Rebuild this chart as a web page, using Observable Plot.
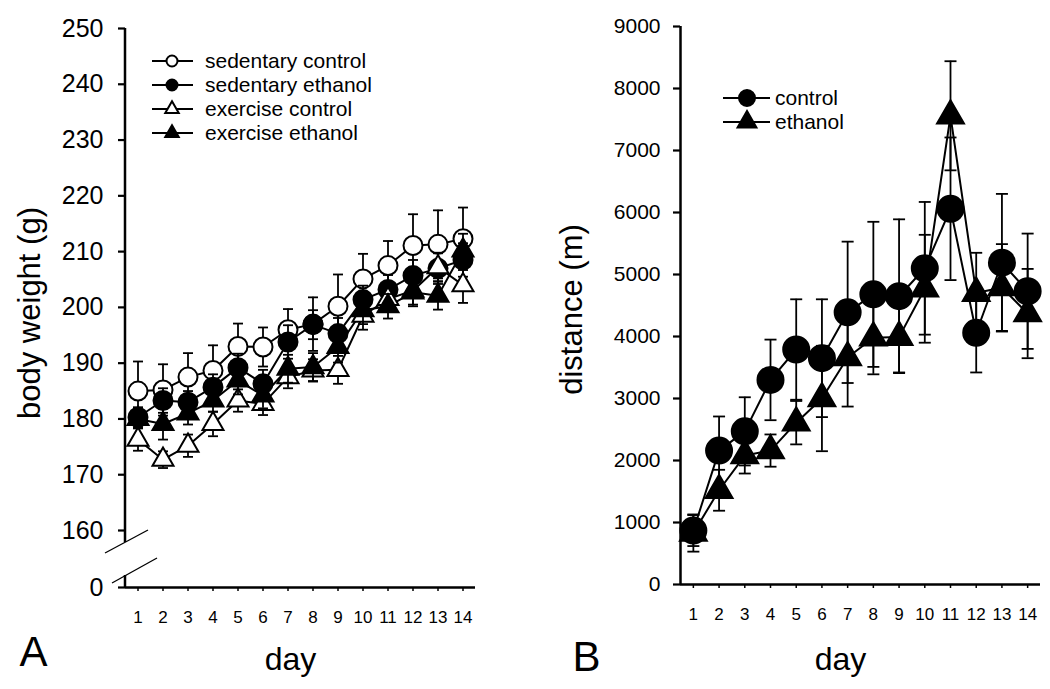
<!DOCTYPE html>
<html><head><meta charset="utf-8">
<script src="https://cdn.jsdelivr.net/npm/d3@7"></script>
<script src="https://cdn.jsdelivr.net/npm/@observablehq/plot@0.6"></script>
<style>
body{margin:0;background:#fff;font-family:"Liberation Sans",Arial,Helvetica,sans-serif;}
#wrap{display:flex;width:1050px;height:689px;}
#wrap svg{display:block;}
</style></head><body><div id="wrap"></div>
<script>
// ---------- data ----------
const days = [1,2,3,4,5,6,7,8,9,10,11,12,13,14];

// Panel A: body weight (g)
const sedControl    = [185.0,185.2,187.5,188.7,193.0,192.9,196.0,197.0,200.2,205.1,207.5,211.1,211.3,212.3];
const sedControlErr = [5.3,4.6,4.3,4.5,4.1,3.5,3.7,4.8,5.7,4.5,4.4,5.6,6.1,5.6];
const sedEthanol    = [180.3,183.3,183.0,185.7,189.2,186.3,193.8,196.9,195.3,201.4,203.2,205.7,207.0,208.5];
const sedEthanolErr = [1.8,2.2,2.0,2.3,2.5,2.5,3.0,2.6,2.8,2.5,2.6,2.8,2.8,3.0];
const exControl     = [176.3,172.7,175.2,179.1,183.3,182.7,187.5,188.7,188.8,198.5,201.5,203.0,207.2,204.0];
const exControlErr  = [2.0,1.5,2.0,2.2,2.0,2.0,2.0,2.0,2.5,2.5,2.0,2.5,2.5,3.2];
const exEthanol     = [180.0,179.1,181.0,183.3,186.9,184.2,189.0,189.3,192.9,199.5,200.2,202.7,202.1,210.2];
const exEthanolErr  = [1.5,2.8,2.0,2.0,2.5,2.3,2.5,2.5,2.8,2.5,2.2,2.5,2.5,3.0];
const yTicksA = [0,160,170,180,190,200,210,220,230,240,250];

// Panel B: distance (m)
const runControl    = [870,2160,2470,3300,3790,3650,4390,4680,4650,5100,6060,4060,5190,4730];
const runControlErr = [250,550,550,650,810,950,1140,1170,1240,1070,1150,640,1110,930];
const runEthanol    = [830,1520,2080,2160,2610,3000,3660,3980,3990,4770,7560,4700,4790,4370];
const runEthanolErr = [300,330,290,260,350,850,790,590,570,870,880,650,700,720];
const yTicksB = [0,1000,2000,3000,4000,5000,6000,7000,8000,9000];

const seriesA = [
  {name:"sedentary control", values:sedControl, errs:sedControlErr, symbol:"circle", fill:"white"},
  {name:"sedentary ethanol", values:sedEthanol, errs:sedEthanolErr, symbol:"circle", fill:"black"},
  {name:"exercise control",  values:exControl,  errs:exControlErr,  symbol:"triangle", fill:"white"},
  {name:"exercise ethanol",  values:exEthanol,  errs:exEthanolErr,  symbol:"triangle", fill:"black"}
];
const seriesB = [
  {name:"control", values:runControl, errs:runControlErr, symbol:"circle", fill:"black"},
  {name:"ethanol", values:runEthanol, errs:runEthanolErr, symbol:"triangle", fill:"black"}
];

// ---------- helpers ----------
const rowsOf = s => days.map((d,i)=>({day:d, value:s.values[i], err:s.errs[i], group:s.name}));
const capSymbol = {draw(ctx, size){ const r = Math.sqrt(size/Math.PI); ctx.moveTo(-r,0); ctx.lineTo(r,0); }};
const FONT = "Liberation Sans, Arial, Helvetica, sans-serif";

function seriesMarks(series, {rCircle, rTriangle, capR, errW}) {
  const lines = series.map(s => Plot.line(rowsOf(s), {x:"day", y:"value", stroke:"black", strokeWidth:2}));
  const rest = [];
  for (const s of series) {
    const data = rowsOf(s);
    rest.push(Plot.ruleX(data, {x:"day", y1:d=>d.value-d.err, y2:d=>d.value+d.err, stroke:"black", strokeWidth:errW}));
    rest.push(Plot.dot(data, {x:"day", y:d=>d.value+d.err, symbol:capSymbol, r:capR, stroke:"black", fill:"none", strokeWidth:errW}));
    rest.push(Plot.dot(data, {x:"day", y:d=>d.value-d.err, symbol:capSymbol, r:capR, stroke:"black", fill:"none", strokeWidth:errW}));
    rest.push(Plot.dot(data, {x:"day", y:"value", symbol:s.symbol, r: s.symbol==="circle"?rCircle:rTriangle,
      fill:s.fill, stroke:"black", strokeWidth:2}));
  }
  return [...lines, ...rest];
}

function legend(svg, items, {x0, x1, xm, xt, y0, dy, fontSize, rC, rT}) {
  const g = d3.select(svg).append("g");
  items.forEach((it, i) => {
    const y = y0 + i*dy;
    g.append("line").attr("x1",x0).attr("x2",x1).attr("y1",y).attr("y2",y).attr("stroke","black").attr("stroke-width",2);
    const r = it.symbol==="circle" ? rC : rT;
    g.append("path").attr("transform",`translate(${xm},${y})`)
      .attr("d", d3.symbol(it.symbol==="circle"?d3.symbolCircle:d3.symbolTriangle, Math.PI*r*r)())
      .attr("fill", it.fill).attr("stroke","black").attr("stroke-width",2);
    g.append("text").attr("x",xt).attr("y",y).attr("dy","0.35em").attr("font-size",fontSize)
      .attr("text-anchor","start").attr("font-family",FONT).attr("fill","black").text(it.name);
  });
}

const lab = {textAnchor:"middle", lineAnchor:"middle"};

// ---------- Panel A ----------
const plotA = Plot.plot({
  width:525, height:689,
  marginLeft:125, marginRight:50, marginTop:28, marginBottom:102,
  x:{domain:[0.5,14.5]},
  y:{type:"linear", domain:[0,160,250], range:[587,530,28]},
  style:{fontFamily:FONT, color:"black", background:"white"},
  marks:[
    Plot.axisX({ticks:days, tickSize:4, tickPadding:19, fontSize:17, strokeWidth:1.5, label:null, tickFormat:d=>String(d)}),
    Plot.axisY({ticks:yTicksA, tickSize:7, tickPadding:15, fontSize:25, strokeWidth:2.2, label:null, tickFormat:d=>String(d)}),
    Plot.ruleY([0], {strokeWidth:2.5}),
    ...seriesMarks(seriesA, {rCircle:9.5, rTriangle:7.8, capR:5, errW:1.8}),
    Plot.text(["day"], {frameAnchor:"bottom", dx:-10, dy:72, fontSize:32, ...lab}),
    Plot.text(["A"], {frameAnchor:"bottom-left", dx:-92, dy:65, fontSize:42, ...lab}),
    Plot.text(["body weight (g)"], {frameAnchor:"left", rotate:-90, dx:-95, dy:5, fontSize:31, ...lab})
  ]
});

// ---------- Panel B ----------
const plotB = Plot.plot({
  width:525, height:689,
  marginLeft:155, marginRight:10, marginTop:26, marginBottom:105,
  x:{domain:[0.5,14.5]},
  y:{domain:[0,9000]},
  style:{fontFamily:FONT, color:"black", background:"white"},
  marks:[
    Plot.axisX({ticks:days, tickSize:4, tickPadding:19, fontSize:17, strokeWidth:1.5, label:null, tickFormat:d=>String(d)}),
    Plot.axisY({ticks:yTicksB, tickSize:7, tickPadding:13, fontSize:21, strokeWidth:2.2, label:null, tickFormat:d=>String(d)}),
    Plot.ruleY([0], {strokeWidth:2.5}),
    Plot.ruleX([0.5], {strokeWidth:2.5}),
    ...seriesMarks(seriesB, {rCircle:13, rTriangle:10, capR:6, errW:1.8}),
    Plot.text(["day"], {frameAnchor:"bottom", dx:-20, dy:75, fontSize:32, ...lab}),
    Plot.text(["B"], {frameAnchor:"bottom-left", dx:-94, dy:73, fontSize:42, ...lab}),
    Plot.text(["distance (m)"], {frameAnchor:"left", rotate:-90, dx:-108, dy:4, fontSize:31, ...lab})
  ]
});

const wrap = document.getElementById("wrap");
wrap.appendChild(plotA);
wrap.appendChild(plotB);

// y axis line of panel A with a scale break, and break marks
{
  const xs = plotA.scale("x"), ys = plotA.scale("y");
  const x0 = xs.apply(0.5);
  const gapTop = ys.apply(160) + 12, gapBot = ys.apply(0) - 12;
  const g = d3.select(plotA).append("g").attr("stroke","black");
  g.append("line").attr("x1",x0).attr("x2",x0).attr("y1",ys.apply(250)).attr("y2",gapTop).attr("stroke-width",2.5);
  g.append("line").attr("x1",x0).attr("x2",x0).attr("y1",gapBot).attr("y2",ys.apply(0)).attr("stroke-width",2.5);
  g.append("line").attr("x1",x0-20).attr("y1",gapTop+11).attr("x2",x0+23).attr("y2",gapTop-12).attr("stroke-width",1.3);
  g.append("line").attr("x1",x0-13).attr("y1",gapBot+8).attr("x2",x0+32).attr("y2",gapBot-17).attr("stroke-width",1.3);
}

legend(plotA, seriesA, {x0:152, x1:193, xm:172, xt:205, y0:61, dy:24, fontSize:21, rC:5.5, rT:5});
legend(plotB, seriesB, {x0:198, x1:245, xm:222, xt:250, y0:98, dy:24, fontSize:21, rC:8, rT:7});
</script>
</body></html>
